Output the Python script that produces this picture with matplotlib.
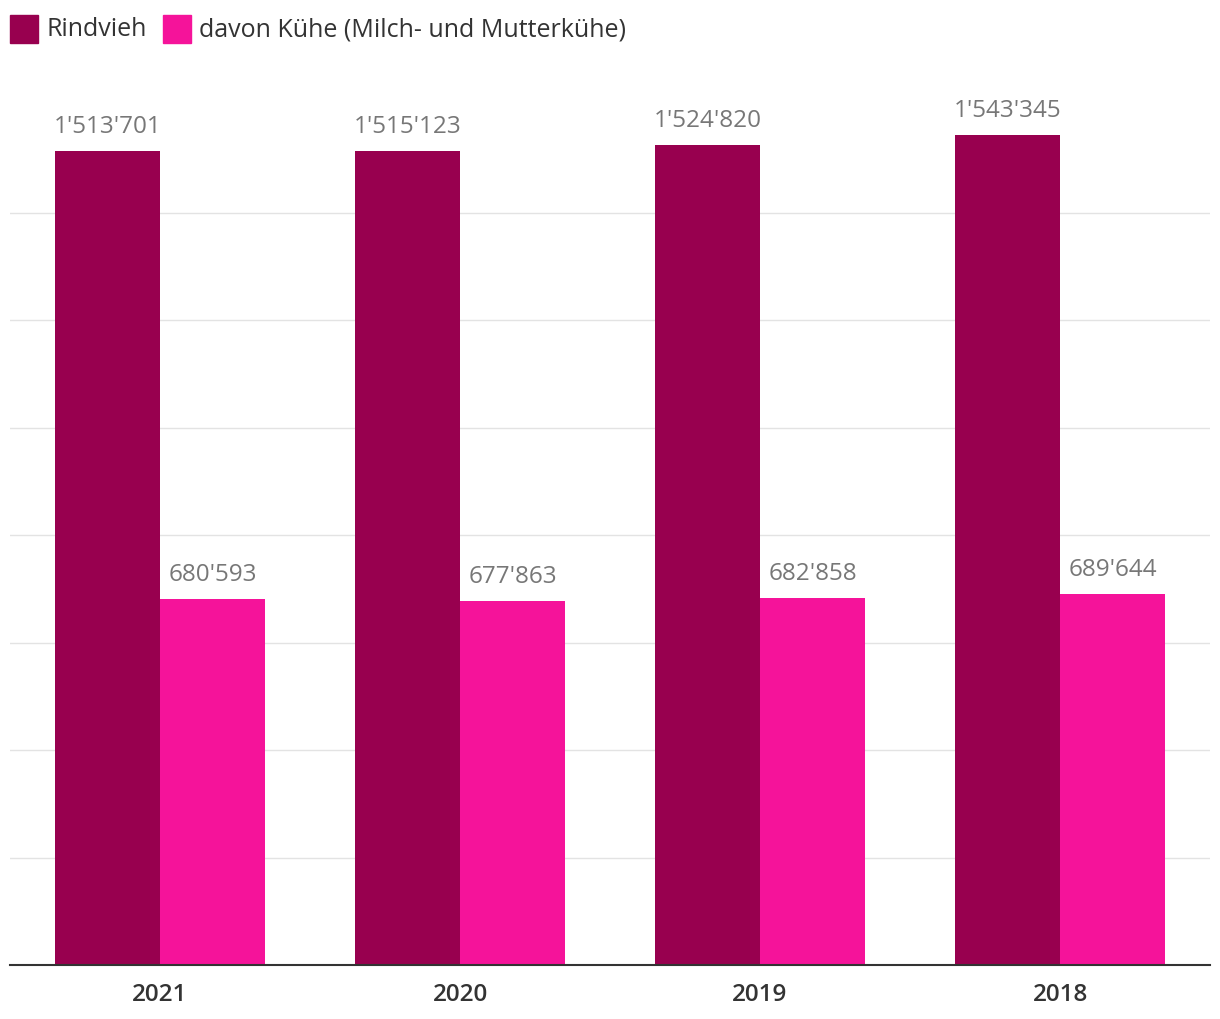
import matplotlib.pyplot as plt
import numpy as np
from matplotlib.patches import Rectangle

years = ["2021", "2020", "2019", "2018"]
rindvieh = [1513701, 1515123, 1524820, 1543345]
kuehe = [680593, 677863, 682858, 689644]
series_names = ["Rindvieh", "davon Kühe (Milch- und Mutterkühe)"]
colors = ["#98004F", "#F5139A"]

plt.rcParams["font.family"] = ["Open Sans", "DejaVu Sans"]


def fmt(v):
    return "{:,}".format(v).replace(",", "'")


fig = plt.figure(figsize=(12.2, 10.2), dpi=100)
ax = fig.add_axes([10 / 1220, 54 / 1020, 1200 / 1220, 860 / 1020])

x = np.arange(len(years))
w = 0.35
for i, (vals, c) in enumerate(zip([rindvieh, kuehe], colors)):
    pos = x + (i - 0.5) * w
    ax.bar(pos, vals, width=w, color=c, zorder=2)
    for p, v in zip(pos, vals):
        ax.annotate(fmt(v), (p, v), xytext=(0, 13), textcoords="offset pixels",
                    ha="center", va="bottom", fontsize=17.5, color="#777777",
                    fontweight="medium")

ax.set_xlim(-0.5, len(years) - 0.5)
ax.set_ylim(0, 1600000)
for g in range(200000, 1600000, 200000):
    ax.axhline(g, color="#e3e3e3", linewidth=1, zorder=1)

ax.set_xticks(x)
ax.set_xticklabels(years, fontsize=17.5, fontweight="semibold", color="#333333")
ax.tick_params(axis="x", length=0, pad=12)
ax.set_yticks([])
for s in ["top", "left", "right"]:
    ax.spines[s].set_visible(False)
ax.spines["bottom"].set_color("#333333")
ax.spines["bottom"].set_linewidth(1.5)
ax.spines["bottom"].set_zorder(3)

# legend drawn by hand
lx = [10, 163]
for name, c, px in zip(series_names, colors, lx):
    fig.patches.append(Rectangle((px / 1220, 1 - 44 / 1020), 28 / 1220, 28 / 1020,
                                 transform=fig.transFigure, color=c))
    fig.text((px + 36) / 1220, 1 - 30 / 1020, name, fontsize=18, color="#333333",
             va="center", ha="left", fontweight="medium")

fig.savefig("out.png", dpi=100)
